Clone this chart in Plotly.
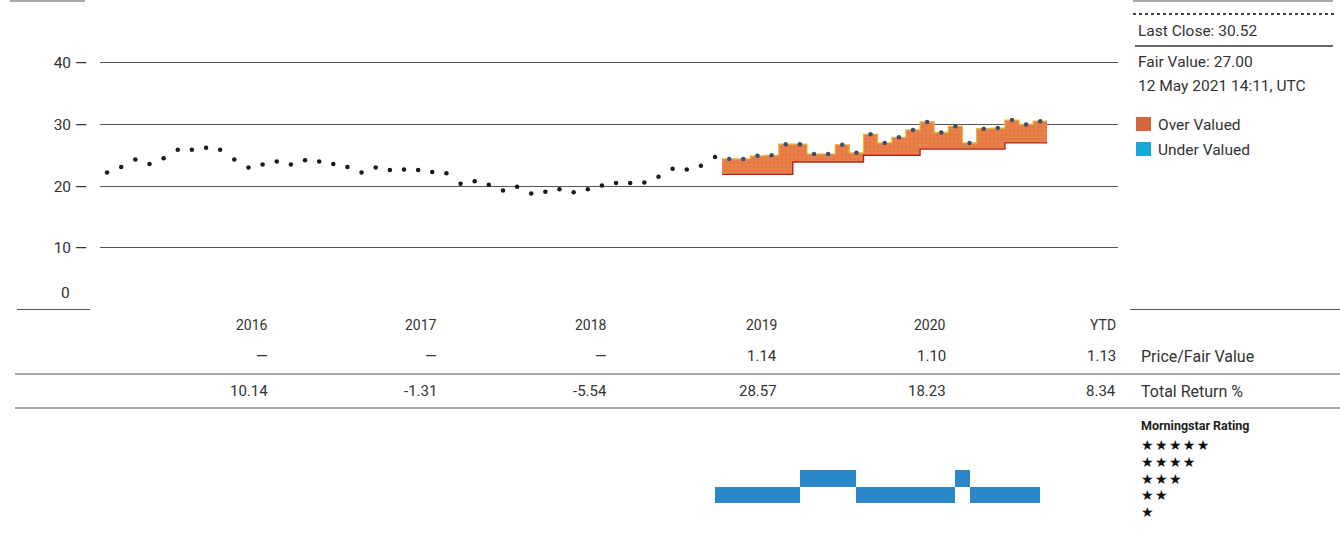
import plotly.graph_objects as go

W, H = 1340, 533

# Monthly closing prices, month index 0 = first month shown
price = [22.2, 23.1, 24.3, 23.6, 24.5, 25.9, 25.9, 26.2, 25.9, 24.3, 23.0, 23.5,
         24.0, 23.5, 24.2, 24.0, 23.6, 23.1, 22.2, 23.0, 22.6, 22.7, 22.6, 22.3,
         22.1, 20.4, 20.8, 20.2, 19.3, 19.9, 18.8, 19.1, 19.5, 19.0, 19.5, 20.1,
         20.5, 20.5, 20.6, 21.5, 22.8, 22.7, 23.3, 24.7, 24.4, 24.4, 24.9, 25.0,
         26.8, 26.8, 25.2, 25.2, 26.7, 25.4, 28.4, 27.0, 27.9, 29.1, 30.4, 28.7,
         29.7, 27.0, 29.3, 29.4, 30.7, 30.0, 30.52]
# Fair value estimates (None before coverage started)
fair_value = [None] * 44 + [21.9] * 5 + [23.9] * 5 + [25.0] * 4 + [26.0] * 6 + [27.0] * 3
# Star rating per month (None = not rated)
rating = [None] * 43 + [2] * 6 + [3] * 4 + [2] * 7 + [3] + [2] * 5 + [None]

years = ["2016", "2017", "2018", "2019", "2020", "YTD"]
price_fair = ["—", "—", "—", "1.14", "1.10", "1.13"]
total_return = ["10.14", "-1.31", "-5.54", "28.57", "18.23", "8.34"]
y_ticks = [0, 10, 20, 30, 40, 50]
as_of = "12 May 2021 14:11, UTC"

FONT = "Roboto, sans-serif"
TXT = "#333333"
ORANGE = "#E8804A"
CYAN = "#19A8DA"
BLUE = "#2B87C8"


def px(x):
    return x / W


def py(y):
    return 1 - y / H


months = list(range(len(price)))
valued = [i for i in months if fair_value[i] is not None]

fig = go.Figure()

# valuation band: bar from fair value up to price
fig.add_trace(go.Bar(
    x=valued,
    y=[price[i] - fair_value[i] for i in valued],
    base=[fair_value[i] for i in valued],
    width=1.0,
    marker=dict(color=ORANGE, line=dict(width=0),
                pattern=dict(shape=".", fgcolor="#DB6439", bgcolor=ORANGE, size=4, solidity=0.2)),
    xaxis="x", yaxis="y", showlegend=False, hoverinfo="skip",
))

# top edge of band (price steps)
edge_x = [i - 0.5 for i in valued] + [valued[-1] + 0.5]
fig.add_trace(go.Scatter(
    x=edge_x, y=[price[i] for i in valued] + [price[valued[-1]]],
    mode="lines", line=dict(color="#E9B53A", width=1.2, shape="hv"),
    xaxis="x", yaxis="y", showlegend=False, hoverinfo="skip",
))
# fair value step line
fig.add_trace(go.Scatter(
    x=edge_x, y=[fair_value[i] for i in valued] + [fair_value[valued[-1]]],
    mode="lines", line=dict(color="#B3261E", width=1.4, shape="hv"),
    xaxis="x", yaxis="y", showlegend=False, hoverinfo="skip",
))

# price dots
dot_colors = ["#1a1a1a" if fair_value[i] is None else "#3D4E6C" for i in months]
fig.add_trace(go.Scatter(
    x=months, y=price, mode="markers",
    marker=dict(size=4.5, color=dot_colors),
    xaxis="x", yaxis="y", showlegend=False,
))

# star-rating bars
rated = [i for i in range(len(rating)) if rating[i] is not None]
fig.add_trace(go.Bar(
    x=[i + 0.5 for i in rated],
    y=[1] * len(rated),
    base=[rating[i] - 0.5 for i in rated],
    width=1.0,
    marker=dict(color=BLUE, line=dict(width=0)),
    xaxis="x2", yaxis="y2", showlegend=False, hoverinfo="skip",
))

shapes = []


def hline(x0, x1, y, dash="solid", width=1.2, color="#555555"):
    shapes.append(dict(type="line", xref="paper", yref="paper",
                       x0=px(x0), x1=px(x1), y0=py(y), y1=py(y),
                       line=dict(color=color, width=width, dash=dash)))


hline(10, 85, 1)
hline(1133, 1333, 1)
hline(17, 90, 309.5)
hline(1130, 1340, 309.5)
hline(1133, 1335, 14, dash="dot", width=2.2, color="#444444")
hline(1135, 1333, 46, width=1.6, color="#333333")
hline(15, 1340, 374)
hline(15, 1340, 408)

for y0, y1, c in [(117, 131, "#D5673F"), (142, 156, CYAN)]:
    shapes.append(dict(type="rect", xref="paper", yref="paper",
                       x0=px(1136), x1=px(1151), y0=py(y1), y1=py(y0),
                       fillcolor=c, line=dict(width=0)))

ann = []


def label(text, x, y, size=16, anchor="left", color=TXT, xref="paper"):
    ann.append(dict(text=text, x=px(x) if xref == "paper" else x, y=py(y),
                    xref=xref, yref="paper", xanchor=anchor, yanchor="middle",
                    showarrow=False, font=dict(family=FONT, size=size, color=color)))


label(f"Last Close: {price[-1]:.2f}", 1136, 31, size=15.5)
label(f"Fair Value: {fair_value[-1]:.2f}", 1136, 62, size=15.5)
label(as_of, 1136, 86, size=15.5)
label("Over Valued", 1156, 125, size=15.5)
label("Under Valued", 1156, 150, size=15.5)
label("Price/Fair Value", 1139, 356, size=16)
label("Total Return %", 1139, 391, size=16)
label("<b>Morningstar Rating</b>", 1139, 425, size=12.5, color="#222222")
label("0", 72, 293, anchor="right", size=15.5)

# table columns, right-aligned at each year's end
for k, yr in enumerate(years):
    xe = 11.5 + 12 * k
    label(yr, xe, 325, size=14, anchor="right", xref="x")
    label(price_fair[k], xe, 356, size=15, anchor="right", xref="x")
    label(total_return[k], xe, 391, size=15, anchor="right", xref="x")

# star scale, one row per rating level
for s in range(1, 6):
    ann.append(dict(text="\u200a".join(["★"] * s), x=px(1139), y=s, xref="paper", yref="y2",
                    xanchor="left", yanchor="middle", showarrow=False,
                    font=dict(family="DejaVu Sans", size=14, color="#111111")))

fig.update_layout(
    width=W, height=H,
    margin=dict(l=0, r=0, t=0, b=0),
    paper_bgcolor="white", plot_bgcolor="white",
    bargap=0, barmode="overlay",
    font=dict(family=FONT, size=16, color=TXT),
    xaxis=dict(domain=[px(100), px(1118)], range=[-0.5, 71.5], visible=False),
    yaxis=dict(domain=[py(309.5), py(1)], range=[0, 50],
               tickvals=y_ticks,
               ticktext=["" if v in (0, 50) else f"{v} —" for v in y_ticks],
               showgrid=True, gridcolor="#555555", gridwidth=1.2,
               zeroline=False, showline=False, ticks="", ticklabelstandoff=12,
               tickfont=dict(family=FONT, size=15.5, color=TXT)),
    xaxis2=dict(domain=[px(100), px(1118)], range=[-0.5, 71.5], visible=False, anchor="y2"),
    yaxis2=dict(domain=[py(520), py(437)], range=[0.5, 5.5], visible=False, anchor="x2"),
    shapes=shapes,
    annotations=ann,
)

fig.write_html("out.html")
